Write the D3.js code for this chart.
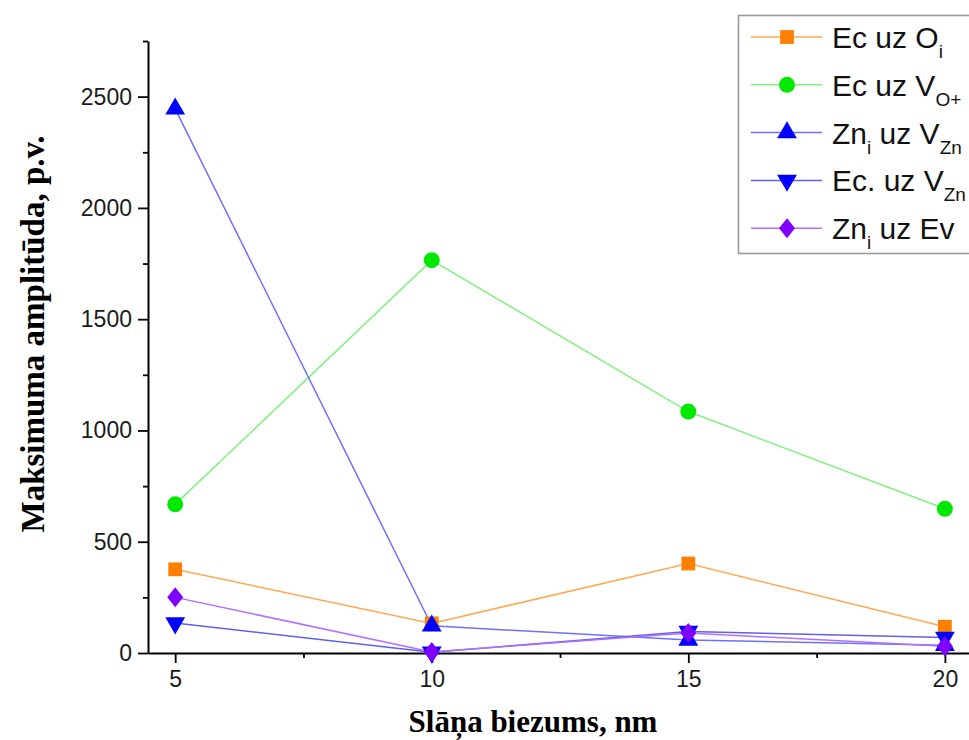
<!DOCTYPE html>
<html>
<head>
<meta charset="utf-8">
<script src="https://cdn.jsdelivr.net/npm/d3@7"></script>
<style>
  body { margin: 0; background: #fff; }
  svg { display: block; }
</style>
</head>
<body>
<svg width="969" height="740"></svg>
<script>
// Data
let thickness = [5, 10, 15, 20];
let ecOi = [376, 133, 402, 118];
let ecVo = [668, 1765, 1085, 648];
let zniVzn = [2445, 122, 58, 35];
let ecVzn = [135, 3, 97, 70];
let zniEv = [250, 5, 90, 30];

let yTicks = [0, 500, 1000, 1500, 2000, 2500];
let yMinor = [250, 750, 1250, 1750, 2250, 2750];
let xTicks = [5, 10, 15, 20];
let xMinor = [7.5, 12.5, 17.5];

// legend labels: [text, isSubscript]
let series = [
  { values: ecOi, line: '#ffa850', fill: '#ff8000', symbol: d3.symbolSquare, size: 190, shape: 'rotate(0)',
    label: [['Ec uz O', false], ['i', true]] },
  { values: ecVo, line: '#80f080', fill: '#00e800', symbol: d3.symbolCircle, size: 200, shape: 'rotate(0)',
    label: [['Ec uz V', false], ['O+', true]] },
  { values: zniVzn, line: '#7070ff', fill: '#0000ff', symbol: d3.symbolTriangle, size: 170, shape: 'rotate(0)',
    label: [['Zn', false], ['i', true], [' uz V', false], ['Zn', true]] },
  { values: ecVzn, line: '#6060f0', fill: '#0000ff', symbol: d3.symbolTriangle, size: 170, shape: 'rotate(180)',
    label: [['Ec. uz V', false], ['Zn', true]] },
  { values: zniEv, line: '#b070ff', fill: '#8000ff', symbol: d3.symbolSquare, size: 200, shape: 'scale(0.8,1) rotate(45)',
    label: [['Zn', false], ['i', true], [' uz Ev', false]] }
];

let svg = d3.select('svg');

let x = d3.scaleLinear().domain([4.47, 20.47]).range([148, 969]);
let y = d3.scaleLinear().domain([0, 2750]).range([653, 41]);

let tickFont = '"Liberation Sans", Arial, sans-serif';

// Y axis (major + minor)
svg.append('g')
    .attr('transform', 'translate(148,0)')
    .call(d3.axisLeft(y).tickValues(yTicks).tickFormat(d3.format('d')).tickSize(10).tickSizeOuter(0).tickPadding(6));
svg.append('g')
    .attr('transform', 'translate(148,0)')
    .call(d3.axisLeft(y).tickValues(yMinor).tickSize(5).tickFormat(''))
    .select('.domain').remove();

// X axis (major + minor)
svg.append('g')
    .attr('transform', 'translate(0,653)')
    .call(d3.axisBottom(x).tickValues(xTicks).tickFormat(d3.format('d')).tickSize(10).tickSizeOuter(0).tickPadding(8));
svg.append('g')
    .attr('transform', 'translate(0,653)')
    .call(d3.axisBottom(x).tickValues(xMinor).tickSize(5).tickFormat(''))
    .select('.domain').remove();

svg.selectAll('.domain').attr('stroke', '#000').attr('stroke-width', 2);
svg.selectAll('.tick line').attr('stroke', '#000').attr('stroke-width', 1.8);
svg.selectAll('.tick text')
    .attr('font-family', tickFont)
    .attr('font-size', '23px')
    .attr('fill', '#1a1a1a');

// Series lines and markers
let line = d3.line()
    .x((d, i) => x(thickness[i]))
    .y(d => y(d));

series.forEach(s => {
  svg.append('path')
      .datum(s.values)
      .attr('d', line)
      .attr('fill', 'none')
      .attr('stroke', s.line)
      .attr('stroke-width', 1.5);
});

series.forEach(s => {
  svg.selectAll(null)
      .data(s.values)
      .enter().append('path')
      .attr('transform', (d, i) => 'translate(' + x(thickness[i]) + ',' + y(d) + ') ' + s.shape)
      .attr('d', d3.symbol().type(s.symbol).size(s.size))
      .attr('fill', s.fill);
});

// Legend
let legend = svg.append('g');
legend.append('rect')
    .attr('x', 738.5)
    .attr('y', 15.5)
    .attr('width', 260)
    .attr('height', 238)
    .attr('fill', '#fff')
    .attr('stroke', '#999')
    .attr('stroke-width', 1.6);

series.forEach((s, i) => {
  let ly = 37 + i * 47.8;
  legend.append('line')
      .attr('x1', 751).attr('x2', 822)
      .attr('y1', ly).attr('y2', ly)
      .attr('stroke', s.line)
      .attr('stroke-width', 1.5);
  legend.append('path')
      .attr('transform', 'translate(787,' + ly + ') ' + s.shape)
      .attr('d', d3.symbol().type(s.symbol).size(s.size))
      .attr('fill', s.fill);
  let t = legend.append('text')
      .attr('x', 832)
      .attr('y', ly + 11)
      .attr('font-family', tickFont)
      .attr('font-size', '30px')
      .attr('fill', '#111');
  s.label.forEach(p => {
    let span = t.append('tspan').text(p[0]);
    if (p[1]) span.attr('font-size', '19px').attr('dy', 10);
    else span.attr('dy', t.selectAll('tspan').size() > 1 ? -10 : 0);
  });
});

// Axis titles
svg.append('text')
    .attr('text-anchor', 'middle')
    .attr('transform', 'translate(' + 44 + ',' + 334 + ')rotate(-90)')
    .attr('font-family', '"Liberation Serif", "Times New Roman", serif')
    .attr('font-weight', 'bold')
    .attr('font-size', '33px')
    .text('Maksimuma amplitūda, p.v.');

svg.append('text')
    .attr('text-anchor', 'middle')
    .attr('x', 533)
    .attr('y', 732)
    .attr('font-family', '"Liberation Serif", "Times New Roman", serif')
    .attr('font-weight', 'bold')
    .attr('font-size', '31px')
    .text('Slāņa biezums, nm');
</script>
</body>
</html>
